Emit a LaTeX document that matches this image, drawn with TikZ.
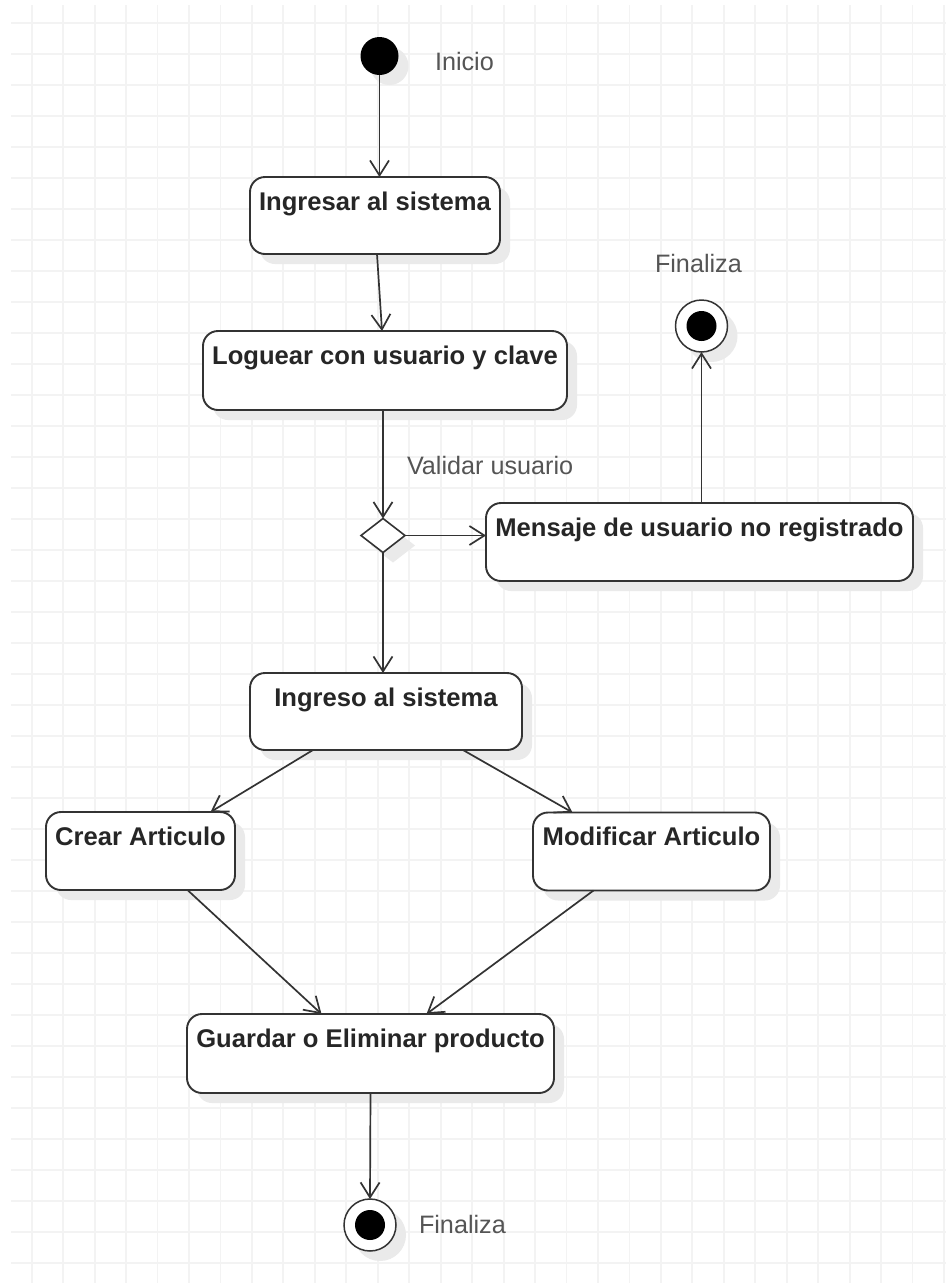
\documentclass[tikz,border=0pt]{standalone}
\usepackage{fontspec}
\setmainfont{Liberation Sans}
\usetikzlibrary{arrows.meta,shapes.geometric,shadows,calc}
\definecolor{gridc}{HTML}{F3F3F3}
\definecolor{linec}{HTML}{333333}
\definecolor{txtc}{HTML}{262626}
\definecolor{annc}{HTML}{555555}
\definecolor{shadc}{HTML}{EAEAEA}
\begin{document}
\begin{tikzpicture}[x=1pt,y=-1pt,
  every node/.style={inner sep=0pt, outer sep=0pt},
  shad/.style={drop shadow={shadow xshift=10pt, shadow yshift=-10pt, fill=shadc, opacity=1}},
  act/.style={draw=linec, line width=1.9pt, rounded corners=15pt, fill=white, shad},
  acttext/.style={anchor=base, font=\fontsize{25.6}{30}\selectfont\bfseries, text=txtc},
  ann/.style={anchor=base west, font=\fontsize{25.2}{30}\selectfont, text=annc},
  flow/.style={draw=linec, line width=1.7pt, -{Straight Barb[length=15pt,width=19pt,line width=1.7pt]}},
  startnode/.style={circle, fill=black, minimum size=38pt, shad},
  endnode/.style={circle, draw=linec, line width=1.5pt, fill=white, minimum size=52pt, shad},
  endcore/.style={circle, fill=black, minimum size=30pt},
  decision/.style={diamond, draw=linec, line width=1.6pt, fill=white, minimum width=44pt, minimum height=34pt, shad},
]
\useasboundingbox (0,0) rectangle (946,1283);
\fill[white] (0,0) rectangle (946,1283);
% grid
\foreach \i in {0,...,29}
  \draw[gridc, line width=1.8pt] ({31.7+31.46*\i},5) -- ({31.7+31.46*\i},1283);
\foreach \j in {0,...,40}
  \draw[gridc, line width=1.8pt] (11,{23+31*\j}) -- (946,{23+31*\j});

% start / end nodes
\node[startnode] (start) at (379.5,56) {};
\node[endnode] (f1) at (701.5,326) {};
\node[endcore] (f1c) at (f1) {};
\node[endnode] (f2) at (370,1225) {};
\node[endcore] (f2c) at (f2) {};

% activities
\node[act, minimum width=250pt, minimum height=77pt] (b1) at (375,215.5) {};
\node[acttext] (b1t) at (375,210) {Ingresar al sistema};
\node[act, minimum width=364pt, minimum height=79pt] (b2) at (385,370.5) {};
\node[acttext] (b2t) at (385,364) {Loguear con usuario y clave};
\node[decision] (dec) at (383,535.5) {};
\node[act, minimum width=427pt, minimum height=78pt] (b3) at (699.5,542) {};
\node[acttext] (b3t) at (699.5,536) {Mensaje de usuario no registrado};
\node[act, minimum width=272pt, minimum height=77pt] (b4) at (386,711.5) {};
\node[acttext] (b4t) at (386,706) {Ingreso al sistema};
\node[act, minimum width=189pt, minimum height=78pt] (b5) at (140.5,851) {};
\node[acttext] (b5t) at (140.5,845) {Crear Articulo};
\node[act, minimum width=237pt, minimum height=78pt] (b6) at (651.5,851.5) {};
\node[acttext] (b6t) at (651.5,845.5) {Modificar Articulo};
\node[act, minimum width=367pt, minimum height=79pt] (b7) at (370.5,1053.5) {};
\node[acttext] (b7t) at (370.5,1047) {Guardar o Eliminar producto};

% annotations
\node[ann] (tInicio) at (435,70.5) {Inicio};
\node[ann] (tFin1) at (655,272) {Finaliza};
\node[ann] (tVal) at (407,474) {Validar usuario};
\node[ann] (tFin2) at (419,1233) {Finaliza};

% connectors
\draw[flow] (start) -- (start |- b1.north);
\draw[flow] ([xshift=2pt]b1.south) -- ([xshift=-3pt]b2.north);
\draw[flow] (dec.north |- b2.south) -- (dec.north);
\draw[flow] (dec.east) -- (dec.east -| b3.west);
\draw[flow] (f1 |- b3.north) -- (f1.south);
\draw[flow] (dec.south) -- (dec.south |- b4.north);
\draw[flow] ([xshift=-73pt]b4.south) -- ([xshift=70pt]b5.north);
\draw[flow] ([xshift=77pt]b4.south) -- ([xshift=-79pt]b6.north);
\draw[flow] ([xshift=47pt]b5.south) -- ([xshift=-49pt]b7.north);
\draw[flow] ([xshift=-58pt]b6.south) -- ([xshift=56pt]b7.north);
\draw[flow] (b7.south) -- (f2.north);
\end{tikzpicture}
\end{document}
